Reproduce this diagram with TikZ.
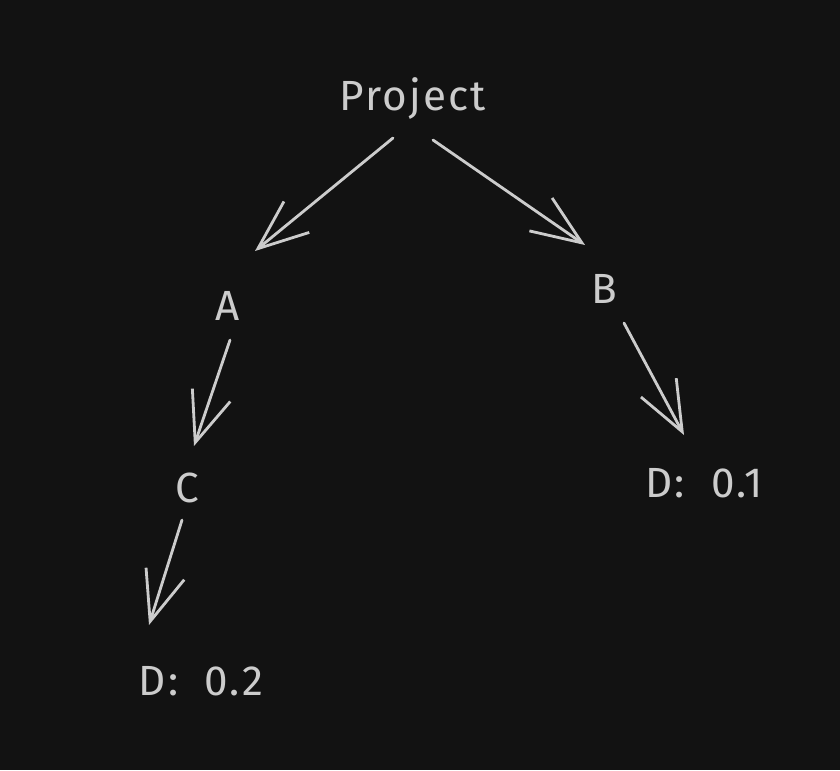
\documentclass[tikz,border=0pt]{standalone}
\usepackage{fontspec}
\setmainfont{Fira Sans}[LetterSpace=5, WordSpace=2]
\usetikzlibrary{arrows.meta, positioning}
\definecolor{bgdark}{rgb}{0.07, 0.07, 0.07}
\definecolor{chalk}{rgb}{0.80, 0.80, 0.80}
\tikzstyle{word} = [text=chalk, font=\fontsize{24}{28}\selectfont, text height=0.55cm, text depth=0.15cm, inner sep=0pt]
\tikzstyle{arrow} = [draw=chalk, line width=1.6pt, line cap=round, -{Straight Barb[length=1cm, width=0.8cm]}]

\begin{document}
\begin{tikzpicture}[node distance=4cm]

\fill[bgdark] (0,0) rectangle (16.8,-15.4);
\useasboundingbox (0,0) rectangle (16.8,-15.4);

\node (project) [word] at (8.26,-2.0) {Project};

\node (A) [word, below of=project, xshift=-3.7cm, yshift=-0.2cm] {A};
\node (B) [word, below of=project, xshift=3.82cm, yshift=0.14cm] {B};

\node (C) [word, below of=A, xshift=-0.82cm, yshift=0.36cm] {C};
\node (Dright) [word, below of=B, xshift=2cm, yshift=0.12cm] {D: 0.1};

\node (Dleft) [word, below of=C, xshift=0.28cm, yshift=0.14cm] {D: 0.2};

\draw[arrow] ([shift={(-0.4,-0.76)}]project.center) -- ([shift={(0.54,1.18)}]A.center);
\draw[arrow] ([shift={(0.4,-0.8)}]project.center) -- ([shift={(-0.38,0.96)}]B.center);

\draw[arrow] ([shift={(0.04,-0.6)}]A.center) -- ([shift={(0.14,0.92)}]C.center);
\draw[arrow] ([shift={(0.4,-0.6)}]B.center) -- ([shift={(-0.4,1.04)}]Dright.center);

\draw[arrow] ([shift={(-0.1,-0.56)}]C.center) -- ([shift={(-1.04,1.2)}]Dleft.center);

\end{tikzpicture}
\end{document}
